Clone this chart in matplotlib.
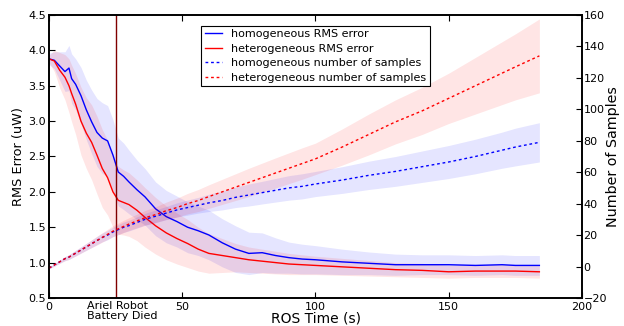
import matplotlib.pyplot as plt

plt.rcParams["font.family"] = ["DejaVu Sans"]

# time knots (s)
t = [0, 2, 4, 6, 7.5, 8.5, 10, 12, 14, 16, 18, 20, 22, 24, 26, 28, 30, 33, 36, 40,
     44, 48, 52, 56, 60, 65, 70, 75, 80, 85, 90, 95, 100, 110, 120, 130, 140, 150,
     160, 170, 175, 184]

# RMS error (uW)
homo_rms = [3.88, 3.86, 3.78, 3.70, 3.75, 3.60, 3.52, 3.36, 3.16, 2.99, 2.84, 2.76, 2.72,
            2.52, 2.28, 2.22, 2.14, 2.03, 1.93, 1.76, 1.65, 1.58, 1.50, 1.45, 1.39, 1.28,
            1.19, 1.13, 1.14, 1.10, 1.07, 1.05, 1.04, 1.01, 0.99, 0.97, 0.97, 0.97, 0.96,
            0.97, 0.96, 0.96]
hetero_rms = [3.88, 3.85, 3.72, 3.62, 3.50, 3.39, 3.24, 3.00, 2.83, 2.70, 2.52, 2.33, 2.20,
              2.00, 1.88, 1.85, 1.82, 1.74, 1.64, 1.52, 1.42, 1.34, 1.27, 1.19, 1.13, 1.10,
              1.07, 1.04, 1.02, 1.00, 0.98, 0.97, 0.96, 0.94, 0.92, 0.90, 0.89, 0.87, 0.88,
              0.88, 0.88, 0.87]
homo_rms_sd = [0.08, 0.12, 0.2, 0.28, 0.32, 0.35, 0.36, 0.4, 0.42, 0.45, 0.48, 0.5, 0.5,
               0.5, 0.48, 0.47, 0.45, 0.42, 0.4, 0.38, 0.37, 0.36, 0.36, 0.35, 0.35, 0.34,
               0.33, 0.3, 0.28, 0.25, 0.22, 0.21, 0.2, 0.18, 0.16, 0.15, 0.14, 0.14, 0.14,
               0.14, 0.14, 0.14]
hetero_rms_sd = [0.05, 0.15, 0.25, 0.32, 0.38, 0.4, 0.43, 0.48, 0.5, 0.53, 0.55, 0.55, 0.53,
                 0.5, 0.48, 0.46, 0.45, 0.43, 0.42, 0.4, 0.38, 0.36, 0.34, 0.31, 0.28, 0.24,
                 0.2, 0.18, 0.17, 0.16, 0.15, 0.14, 0.13, 0.12, 0.11, 0.1, 0.1, 0.09, 0.09,
                 0.09, 0.09, 0.09]

# number of samples
homo_n = [-1, 1, 3, 5, 6, 7, 8.5, 10.5, 12.5, 14.5, 16.5, 18.5, 20, 22, 23.5, 25, 26, 28,
          30, 32, 34, 36, 37.5, 39, 40.5, 42, 44, 45.5, 47, 48.5, 50, 51, 52.5, 55, 58,
          60.5, 63.5, 66.5, 70, 74, 76, 79]
hetero_n = [-1, 1, 3, 5, 6, 7, 8.5, 10.5, 12.5, 14.5, 16.5, 18.5, 20.5, 22.5, 24, 25.5,
            27, 29, 31, 33, 35.5, 37.5, 40, 42, 44.5, 47.5, 50.5, 53.5, 56.5, 59.5, 62.5,
            65.5, 68.5, 76, 84, 92, 99, 107, 115, 123, 127, 134]
homo_n_sd = [0.5, 0.8, 1, 1.3, 1.5, 1.6, 1.8, 2, 2.2, 2.4, 2.6, 2.8, 3, 3, 3.2, 3.3, 3.4,
             3.6, 3.8, 4, 4.2, 4.5, 4.8, 5, 5.5, 6, 6.5, 7, 7.2, 7.5, 7.8, 8, 8, 8.5, 9,
             9.5, 10, 10.5, 11, 11.5, 12, 12.5]
hetero_n_sd = [0.5, 0.8, 1, 1.3, 1.5, 1.6, 1.8, 2, 2.2, 2.5, 2.8, 3, 3.2, 3.5, 3.7, 3.9,
               4, 4.3, 4.6, 5, 5.5, 6, 6.5, 7, 7.5, 8, 8.5, 9, 9.3, 9.6, 9.8, 10, 10, 11.5,
               13, 14, 15, 16, 18, 20, 21, 23.5]

event_t = 25
xticks = [0, 50, 100, 150, 200]

fig = plt.figure(figsize=(6.24, 3.26), dpi=100)
ax = fig.add_axes([0.0785, 0.086, 0.8542, 0.868])
ax2 = ax.twinx()


def band(a, y, sd, c):
    lo = [v - s for v, s in zip(y, sd)]
    hi = [v + s for v, s in zip(y, sd)]
    a.fill_between(t, lo, hi, color=c, alpha=0.1, linewidth=0)


band(ax, homo_rms, homo_rms_sd, "b")
band(ax, hetero_rms, hetero_rms_sd, "r")
l1, = ax.plot(t, homo_rms, color="b", lw=1, label="homogeneous RMS error")
l2, = ax.plot(t, hetero_rms, color="r", lw=1, label="heterogeneous RMS error")
ax.axvline(event_t, color="#800000", lw=1)

band(ax2, homo_n, homo_n_sd, "b")
band(ax2, hetero_n, hetero_n_sd, "r")
l3, = ax2.plot(t, homo_n, color="b", lw=1, ls=(0, (2, 2)), label="homogeneous number of samples")
l4, = ax2.plot(t, hetero_n, color="r", lw=1, ls=(0, (2, 2)), label="heterogeneous number of samples")

ax.set_xlim(0, 200)
ax.set_ylim(0.5, 4.5)
ax2.set_ylim(-20, 160)
ax.set_xticks(xticks)
ax.set_yticks([0.5, 1.0, 1.5, 2.0, 2.5, 3.0, 3.5, 4.0, 4.5])
ax.set_yticklabels(["%.1f" % v for v in ax.get_yticks()])
ax2.set_yticks(range(-20, 161, 20))

ax.tick_params(direction="in", labelsize=8, top=True, length=4)
ax.tick_params(axis="y", pad=2)
ax.tick_params(axis="x", pad=3)
ax2.tick_params(direction="in", labelsize=8, length=4, pad=1)
for a in (ax, ax2):
    for s in a.spines.values():
        s.set_linewidth(1.2)

# event annotation under the axis
ax.text(27.6, -0.01, "Ariel Robot\nBattery Died", transform=ax.get_xaxis_transform(),
        ha="center", va="top", multialignment="left", fontsize=8, linespacing=1.0)

fig.text(0.506, 0.003, "ROS Time (s)", ha="center", va="bottom", fontsize=10)
fig.text(0.029, 0.52, "RMS Error (uW)", rotation=90, ha="center", va="center", fontsize=9.3)
fig.text(0.982, 0.52, "Number of Samples", rotation=90, ha="center", va="center", fontsize=10.3)

leg = ax2.legend([l1, l2, l3, l4], [l.get_label() for l in (l1, l2, l3, l4)],
                 loc="upper center", bbox_to_anchor=(0.5, 0.982), fontsize=8,
                 fancybox=False, edgecolor="black", framealpha=1, handlelength=1.6,
                 borderpad=0.3, labelspacing=0.42)
leg.get_frame().set_linewidth(0.8)

fig.savefig("out.png", dpi=100)
